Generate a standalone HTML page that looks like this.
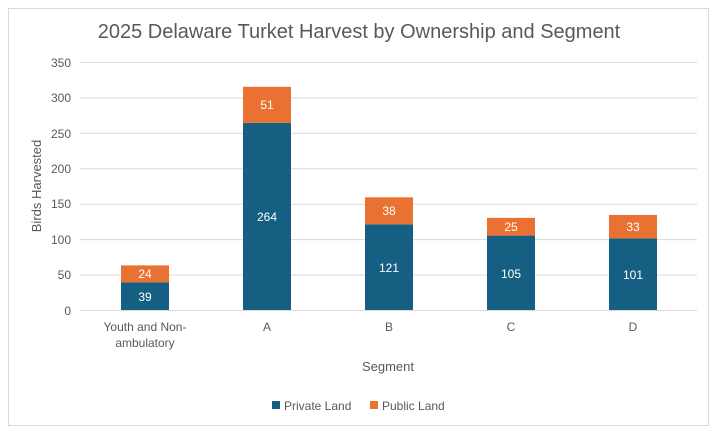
<!DOCTYPE html>
<html><head><meta charset="utf-8"><style>
body{margin:0;background:#fff;}
svg{display:block;font-family:"Liberation Sans",Arial,sans-serif;}
</style></head><body>
<svg width="717" height="433" viewBox="0 0 717 433">
<rect x="0" y="0" width="717" height="433" fill="#fff"/>
<rect x="8.5" y="8.5" width="700" height="417" fill="#fff" stroke="#d9d9d9"/>
<text x="359" y="38" font-size="20" fill="#595959" text-anchor="middle">2025 Delaware Turket Harvest by Ownership and Segment</text>
<g stroke="#d9d9d9" stroke-width="1">
<line x1="80" x2="697" y1="62.5" y2="62.5"/>
<line x1="80" x2="697" y1="97.9" y2="97.9"/>
<line x1="80" x2="697" y1="133.4" y2="133.4"/>
<line x1="80" x2="697" y1="168.8" y2="168.8"/>
<line x1="80" x2="697" y1="204.2" y2="204.2"/>
<line x1="80" x2="697" y1="239.6" y2="239.6"/>
<line x1="80" x2="697" y1="275.1" y2="275.1"/>
<line x1="80" x2="697" y1="310.5" y2="310.5"/>
</g>
<g font-size="12" fill="#595959" text-anchor="end">
<text x="71" y="67">350</text><text x="71" y="102">300</text><text x="71" y="138">250</text>
<text x="71" y="173">200</text><text x="71" y="208">150</text><text x="71" y="244">100</text>
<text x="71" y="279">50</text><text x="71" y="315">0</text>
</g>
<text transform="translate(41,186) rotate(-90)" font-size="13" fill="#595959" text-anchor="middle">Birds Harvested</text>
<g fill="#156082">
<rect x="121" y="282.4" width="48" height="27.6"/>
<rect x="243" y="122.9" width="48" height="187.1"/>
<rect x="365" y="224.3" width="48" height="85.7"/>
<rect x="487" y="235.6" width="48" height="74.4"/>
<rect x="609" y="238.4" width="48" height="71.6"/>
</g>
<g fill="#E97132">
<rect x="121" y="265.4" width="48" height="17"/>
<rect x="243" y="86.8" width="48" height="36.1"/>
<rect x="365" y="197.3" width="48" height="27"/>
<rect x="487" y="217.9" width="48" height="17.7"/>
<rect x="609" y="215" width="48" height="23.4"/>
</g>
<g font-size="12" fill="#fff" text-anchor="middle">
<text x="145" y="301">39</text><text x="145" y="278">24</text>
<text x="267" y="221">264</text><text x="267" y="109">51</text>
<text x="389" y="272">121</text><text x="389" y="215">38</text>
<text x="511" y="278">105</text><text x="511" y="231">25</text>
<text x="633" y="279">101</text><text x="633" y="231">33</text>
</g>
<g font-size="12" fill="#595959" text-anchor="middle">
<text x="145" y="331">Youth and Non-</text><text x="145" y="347">ambulatory</text>
<text x="267" y="331">A</text><text x="389" y="331">B</text>
<text x="511" y="331">C</text><text x="633" y="331">D</text>
</g>
<text x="388" y="371" font-size="13" fill="#595959" text-anchor="middle">Segment</text>
<rect x="272" y="401" width="8" height="8" fill="#156082"/>
<text x="284" y="410" font-size="12" fill="#595959">Private Land</text>
<rect x="370" y="401" width="8" height="8" fill="#E97132"/>
<text x="382" y="410" font-size="12" fill="#595959">Public Land</text>
</svg>
</body></html>
